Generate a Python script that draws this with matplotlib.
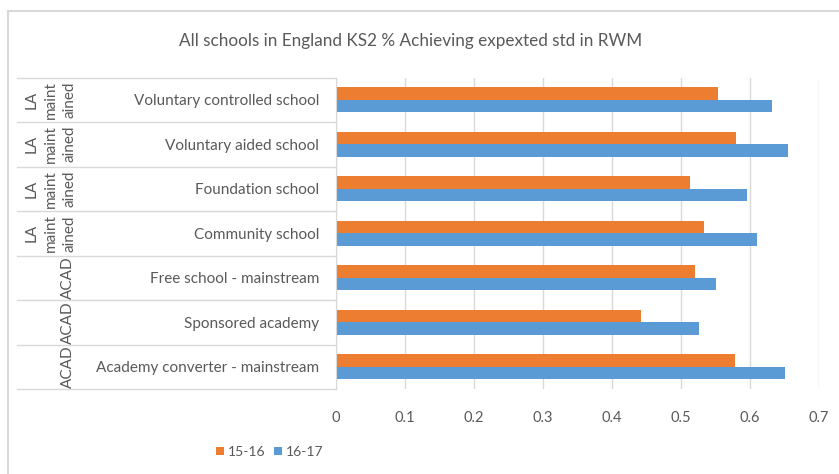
import numpy as np
import matplotlib
matplotlib.use('Agg')
from matplotlib import pyplot as plt
from matplotlib.transforms import blended_transform_factory

plt.rcParams['font.family'] = ['Lato', 'DejaVu Sans']

# Data (top to bottom)
schools = ['Voluntary controlled school', 'Voluntary aided school', 'Foundation school',
           'Community school', 'Free school - mainstream', 'Sponsored academy',
           'Academy converter - mainstream']
groups = ['LA\nmaint\nained', 'LA\nmaint\nained', 'LA\nmaint\nained', 'LA\nmaint\nained',
          'ACAD', 'ACAD', 'ACAD']
y1516 = [0.553, 0.580, 0.513, 0.534, 0.521, 0.442, 0.578]
y1617 = [0.632, 0.655, 0.596, 0.610, 0.550, 0.526, 0.651]
xticks = [0, 0.1, 0.2, 0.3, 0.4, 0.5, 0.6, 0.7]

orange = '#ED7D31'
blue = '#5B9BD5'
grey_txt = '#595959'
grid_c = '#D9D9D9'

W, H = 839, 474
fig = plt.figure(figsize=(W / 100, H / 100), dpi=100)
ax = fig.add_axes([336 / W, 1 - 389 / H, (819 - 336) / W, (389 - 77.5) / H])

pos = np.arange(len(schools))
h = 0.28
ax.barh(pos - h / 2, y1516, height=h, color=orange, label='15-16')
ax.barh(pos + h / 2, y1617, height=h, color=blue, label='16-17')

ax.set_ylim(len(schools) - 0.5, -0.5)
ax.set_xlim(0, 0.7)
ax.set_xticks(xticks)
ax.set_xticklabels([str(t) if t else '0' for t in xticks])
ax.set_yticks(pos)
ax.set_yticklabels(schools)
ax.tick_params(axis='y', length=0, pad=12, labelsize=11, labelcolor=grey_txt)
ax.tick_params(axis='x', length=0, pad=16, labelsize=10.5, labelcolor=grey_txt)
ax.grid(axis='x', color=grid_c, lw=1)
ax.set_axisbelow(True)
for s in ['top', 'right', 'bottom']:
    ax.spines[s].set_visible(False)
ax.spines['left'].set_color(grid_c)

# table lines and group labels on the left
tr = blended_transform_factory(fig.transFigure, ax.transData)
for b in np.arange(len(schools) + 1) - 0.5:
    ax.plot([17 / W, 336 / W], [b, b], color=grid_c, lw=1, transform=tr, clip_on=False)
for p, g in zip(pos, groups):
    gx = 51 if '\n' in g else 68
    ax.text(gx / W, p, g, rotation=90, ha='center', va='center', fontsize=11,
            color=grey_txt, linespacing=1.45, transform=tr, clip_on=False)

fig.text(411 / W, 1 - 41 / H, 'All schools in England KS2 % Achieving expexted std in RWM',
         ha='center', va='center', fontsize=12.3, color=grey_txt)

fig.legend(loc='center', bbox_to_anchor=(270 / W, 1 - 452 / H), ncol=2, frameon=False,
           fontsize=10, labelcolor=grey_txt, handlelength=0.55, handleheight=0.55,
           handletextpad=0.3, columnspacing=0.6)

# outer chart border
fig.add_artist(plt.Line2D([8 / W, 1], [1 - 11 / H, 1 - 11 / H], color=grid_c, lw=1.5,
                          transform=fig.transFigure))
fig.add_artist(plt.Line2D([8 / W, 8 / W], [0, 1 - 11 / H], color=grid_c, lw=1.5,
                          transform=fig.transFigure))

fig.savefig('out.png', dpi=100)
